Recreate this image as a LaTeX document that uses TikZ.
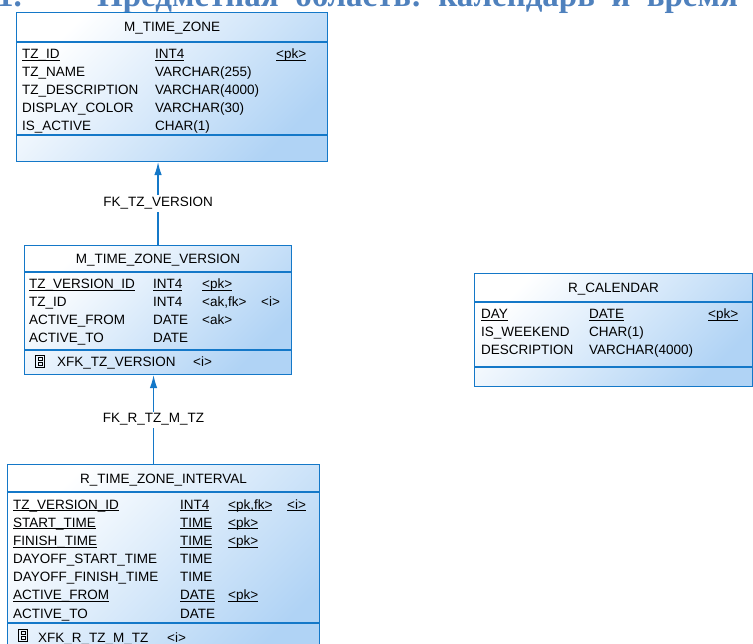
\documentclass[tikz,border=0pt]{standalone}
\usepackage{fontspec}
\setmainfont{Liberation Sans}
\newfontfamily\headfont{Liberation Serif}
\usepackage{tikz}
\usetikzlibrary{arrows.meta, positioning, calc}
\definecolor{erblue}{RGB}{20,120,200}
\definecolor{erfill}{RGB}{176,211,245}
\definecolor{headblue}{RGB}{79,129,189}
% key columns: the rule sits on the baseline, level with the underscores
\newcommand\keyul[1]{\underline{\smash{#1}}}
\tikzset{
  entity/.style={
    draw=erblue, line width=1.1pt,
    left color=white, right color=erfill, shading angle=45,
    anchor=north west, inner sep=0pt
  },
  sepline/.style={draw=erblue, line width=1.1pt},
  etitle/.style={anchor=base, inner sep=0pt, font=\fontsize{13.5}{14}\selectfont},
  cell/.style={anchor=base west, inner sep=0pt, font=\fontsize{13.5}{14}\selectfont},
  idxicon/.style={
    draw=black, line width=0.6pt, minimum width=9pt, minimum height=12pt, inner sep=0pt,
    path picture={
      \draw [line width=0.6pt] ([xshift=-2.2pt,yshift=3.8pt]path picture bounding box.center)
        rectangle ([xshift=2.2pt,yshift=0.8pt]path picture bounding box.center);
      \draw [line width=0.6pt] ([xshift=-2.2pt,yshift=-0.8pt]path picture bounding box.center)
        rectangle ([xshift=2.2pt,yshift=-3.8pt]path picture bounding box.center);
    }
  },
  fkline/.style={draw=erblue, line width=1.2pt, -{Latex[length=13pt,width=7.5pt]}},
  fklabel/.style={fill=white, inner sep=2pt, font=\fontsize{13.5}{14}\selectfont},
  heading/.style={anchor=base west, inner sep=0pt, text=headblue,
    font=\headfont\bfseries\fontsize{33}{36}\selectfont},
}
\begin{document}
\begin{tikzpicture}[x=1pt, y=-1pt]
  \useasboundingbox (0,0) rectangle (753,644);
  \clip (0,0) rectangle (753,644);

  % heading, cut off at the top
  \node (head-num)  [heading] at (-3,7) {1.};
  \node (head-text) [heading] at (97,7) {Предметная\ \ область:\ \ календарь\ \ и\ \ время};

  % M_TIME_ZONE
  \node (mtz) [entity, minimum width=311pt, minimum height=149pt] at (16,12) {};
  \draw [sepline] (mtz.west |- 0,42) -- (mtz.east |- 0,42);
  \draw [sepline] (mtz.west |- 0,135) -- (mtz.east |- 0,135);
  \node (mtz-title) [etitle] at (mtz.center |- 0,31.5) {M\_TIME\_ZONE};
  \node (mtz-n1) [cell] at (22,58.5)  {\keyul{TZ\_ID}};
  \node (mtz-t1) [cell] at (155,58.5) {\keyul{INT4}};
  \node (mtz-k1) [cell] at (276,58.5) {\keyul{<pk>}};
  \node (mtz-n2) [cell] at (22,76.7)  {TZ\_NAME};
  \node (mtz-t2) [cell] at (155,76.7) {VARCHAR(255)};
  \node (mtz-n3) [cell] at (22,94.8)  {TZ\_DESCRIPTION};
  \node (mtz-t3) [cell] at (155,94.8) {VARCHAR(4000)};
  \node (mtz-n4) [cell] at (22,112.9) {DISPLAY\_COLOR};
  \node (mtz-t4) [cell] at (155,112.9) {VARCHAR(30)};
  \node (mtz-n5) [cell] at (22,131)   {IS\_ACTIVE};
  \node (mtz-t5) [cell] at (155,131)  {CHAR(1)};

  % M_TIME_ZONE_VERSION
  \node (mtzv) [entity, minimum width=267pt, minimum height=129pt] at (24,245) {};
  \draw [sepline] (mtzv.west |- 0,272) -- (mtzv.east |- 0,272);
  \draw [sepline] (mtzv.west |- 0,350) -- (mtzv.east |- 0,350);
  \node (mtzv-title) [etitle] at (mtzv.center |- 0,264) {M\_TIME\_ZONE\_VERSION};
  \node (mtzv-n1) [cell] at (29,289)  {\keyul{TZ\_VERSION\_ID}};
  \node (mtzv-t1) [cell] at (153,289) {\keyul{INT4}};
  \node (mtzv-k1) [cell] at (202,289) {\keyul{<pk>}};
  \node (mtzv-n2) [cell] at (29,307)  {TZ\_ID};
  \node (mtzv-t2) [cell] at (153,307) {INT4};
  \node (mtzv-k2) [cell] at (202,307) {<ak,fk>};
  \node (mtzv-i2) [cell] at (261,307) {<i>};
  \node (mtzv-n3) [cell] at (29,325)  {ACTIVE\_FROM};
  \node (mtzv-t3) [cell] at (153,325) {DATE};
  \node (mtzv-k3) [cell] at (202,325) {<ak>};
  \node (mtzv-n4) [cell] at (29,343)  {ACTIVE\_TO};
  \node (mtzv-t4) [cell] at (153,343) {DATE};
  \node (mtzv-icon) [idxicon] at (40,361.5) {};
  \node (mtzv-idx)  [cell] at (57,367)  {XFK\_TZ\_VERSION};
  \node (mtzv-idxi) [cell] at (193,367) {<i>};

  % R_TIME_ZONE_INTERVAL
  \node (rtzi) [entity, minimum width=312pt, minimum height=200pt] at (7,464) {};
  \draw [sepline] (rtzi.west |- 0,492) -- (rtzi.east |- 0,492);
  \draw [sepline] (rtzi.west |- 0,623) -- (rtzi.east |- 0,623);
  \node (rtzi-title) [etitle] at (rtzi.center |- 0,483) {R\_TIME\_ZONE\_INTERVAL};
  \node (rtzi-n1) [cell] at (13,509)    {\keyul{TZ\_VERSION\_ID}};
  \node (rtzi-t1) [cell] at (180,509)   {\keyul{INT4}};
  \node (rtzi-k1) [cell] at (228,509)   {\keyul{<pk,fk>}};
  \node (rtzi-i1) [cell] at (287,509)   {\keyul{<i>}};
  \node (rtzi-n2) [cell] at (13,527)    {\keyul{START\_TIME}};
  \node (rtzi-t2) [cell] at (180,527)   {\keyul{TIME}};
  \node (rtzi-k2) [cell] at (228,527)   {\keyul{<pk>}};
  \node (rtzi-n3) [cell] at (13,545.5)  {\keyul{FINISH\_TIME}};
  \node (rtzi-t3) [cell] at (180,545.5) {\keyul{TIME}};
  \node (rtzi-k3) [cell] at (228,545.5) {\keyul{<pk>}};
  \node (rtzi-n4) [cell] at (13,563.6)  {DAYOFF\_START\_TIME};
  \node (rtzi-t4) [cell] at (180,563.6) {TIME};
  \node (rtzi-n5) [cell] at (13,581.7)  {DAYOFF\_FINISH\_TIME};
  \node (rtzi-t5) [cell] at (180,581.7) {TIME};
  \node (rtzi-n6) [cell] at (13,599.8)  {\keyul{ACTIVE\_FROM}};
  \node (rtzi-t6) [cell] at (180,599.8) {\keyul{DATE}};
  \node (rtzi-k6) [cell] at (228,599.8) {\keyul{<pk>}};
  \node (rtzi-n7) [cell] at (13,618)    {ACTIVE\_TO};
  \node (rtzi-t7) [cell] at (180,618)   {DATE};
  \node (rtzi-icon) [idxicon] at (23,635.5) {};
  \node (rtzi-idx)  [cell] at (38,642)  {XFK\_R\_TZ\_M\_TZ};
  \node (rtzi-idxi) [cell] at (167,642) {<i>};

  % R_CALENDAR
  \node (rcal) [entity, minimum width=278pt, minimum height=113pt] at (474,273) {};
  \draw [sepline] (rcal.west |- 0,302) -- (rcal.east |- 0,302);
  \draw [sepline] (rcal.west |- 0,367) -- (rcal.east |- 0,367);
  \node (rcal-title) [etitle] at (rcal.center |- 0,293) {R\_CALENDAR};
  \node (rcal-n1) [cell] at (481,319) {\keyul{DAY}};
  \node (rcal-t1) [cell] at (589,319) {\keyul{DATE}};
  \node (rcal-k1) [cell] at (708,319) {\keyul{<pk>}};
  \node (rcal-n2) [cell] at (481,337) {IS\_WEEKEND};
  \node (rcal-t2) [cell] at (589,337) {CHAR(1)};
  \node (rcal-n3) [cell] at (481,355) {DESCRIPTION};
  \node (rcal-t3) [cell] at (589,355) {VARCHAR(4000)};

  % references
  \draw [fkline] (mtzv.north) -- (mtzv.north |- mtz.south)
    node (fk-tz-version) [fklabel, midway] {FK\_TZ\_VERSION};
  \draw [fkline] ([xshift=-10pt]rtzi.north) -- ([xshift=-10pt]rtzi.north |- mtzv.south)
    node (fk-r-tz-m-tz) [fklabel, midway] {FK\_R\_TZ\_M\_TZ};
\end{tikzpicture}
\end{document}
